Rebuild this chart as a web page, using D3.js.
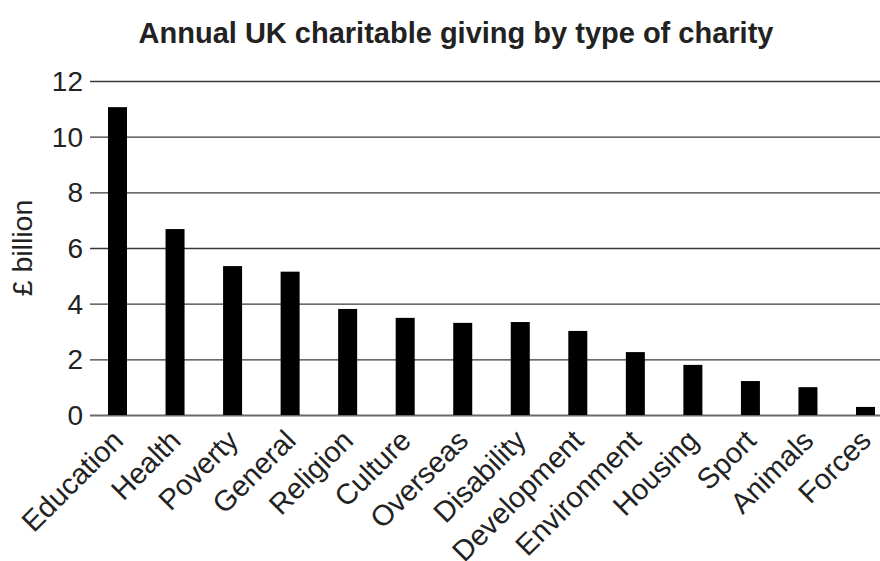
<!DOCTYPE html>
<html>
<head>
    <title>Annual UK charitable giving by type of charity</title>
    <script src="https://d3js.org/d3.v7.min.js"></script>
    <style>
        body { margin: 0; background: #fff; }
        svg { font-family: "Liberation Sans", Arial, sans-serif; }
    </style>
</head>
<body>
    <svg id="chart"></svg>

    <script>
        // values (£ billion)
        const categories = ["Education", "Health", "Poverty", "General", "Religion", "Culture", "Overseas",
                            "Disability", "Development", "Environment", "Housing", "Sport", "Animals", "Forces"];
        const giving = [11.06, 6.68, 5.35, 5.15, 3.81, 3.49, 3.31, 3.34, 3.02, 2.26, 1.80, 1.22, 1.0, 0.29];
        const yTicks = [0, 2, 4, 6, 8, 10, 12];

        const data = categories.map((c, i) => ({ name: c, value: giving[i] }));

        const width = 880;
        const height = 561;
        const margin = { top: 81, right: 0, bottom: 146, left: 90 };

        const svg = d3.select("#chart")
            .attr("width", width)
            .attr("height", height);

        const x = d3.scalePoint()
            .domain(categories)
            .range([117.5, 865.5]);

        const y = d3.scaleLinear()
            .domain([0, 12])
            .range([height - margin.bottom, margin.top]);

        const barWidth = 19;

        // grid lines
        svg.append("g")
            .attr("transform", `translate(${margin.left},0)`)
            .call(d3.axisLeft(y).tickValues(yTicks).tickSize(-(width - margin.left)).tickFormat(""))
            .call(g => g.select(".domain").remove())
            .call(g => g.selectAll(".tick line")
                .attr("stroke", d => d === 0 ? "#6b6b6b" : "#3a3a3a")
                .attr("stroke-width", d => d === 0 ? 2.2 : 1.4));

        // y tick labels
        svg.append("g")
            .selectAll("text")
            .data(yTicks)
            .join("text")
            .attr("x", 83)
            .attr("y", d => y(d))
            .attr("dy", "0.36em")
            .attr("text-anchor", "end")
            .attr("font-size", 28)
            .attr("fill", "#222")
            .text(d => d);

        // bars
        svg.append("g")
            .selectAll("rect")
            .data(data)
            .join("rect")
            .attr("x", d => x(d.name) - barWidth / 2)
            .attr("y", d => y(d.value))
            .attr("width", barWidth)
            .attr("height", d => y(0) - y(d.value))
            .attr("fill", "#000");

        // x labels, rotated
        svg.append("g")
            .selectAll("text")
            .data(categories)
            .join("text")
            .attr("transform", d => `translate(${x(d) - 7},${y(0) + 13}) rotate(-45)`)
            .attr("text-anchor", "end")
            .attr("dy", "0.7em")
            .attr("font-size", 29)
            .attr("fill", "#222")
            .text(d => d);

        // y axis title
        svg.append("text")
            .attr("transform", `translate(22,${(margin.top + y(0)) / 2}) rotate(-90)`)
            .attr("text-anchor", "middle")
            .attr("dy", "0.36em")
            .attr("font-size", 28.5)
            .attr("fill", "#222")
            .text("£ billion");

        // title
        svg.append("text")
            .attr("x", 456)
            .attr("y", 43)
            .attr("text-anchor", "middle")
            .attr("font-size", 29)
            .attr("font-weight", "bold")
            .attr("fill", "#222")
            .text("Annual UK charitable giving by type of charity");
    </script>
</body>
</html>
